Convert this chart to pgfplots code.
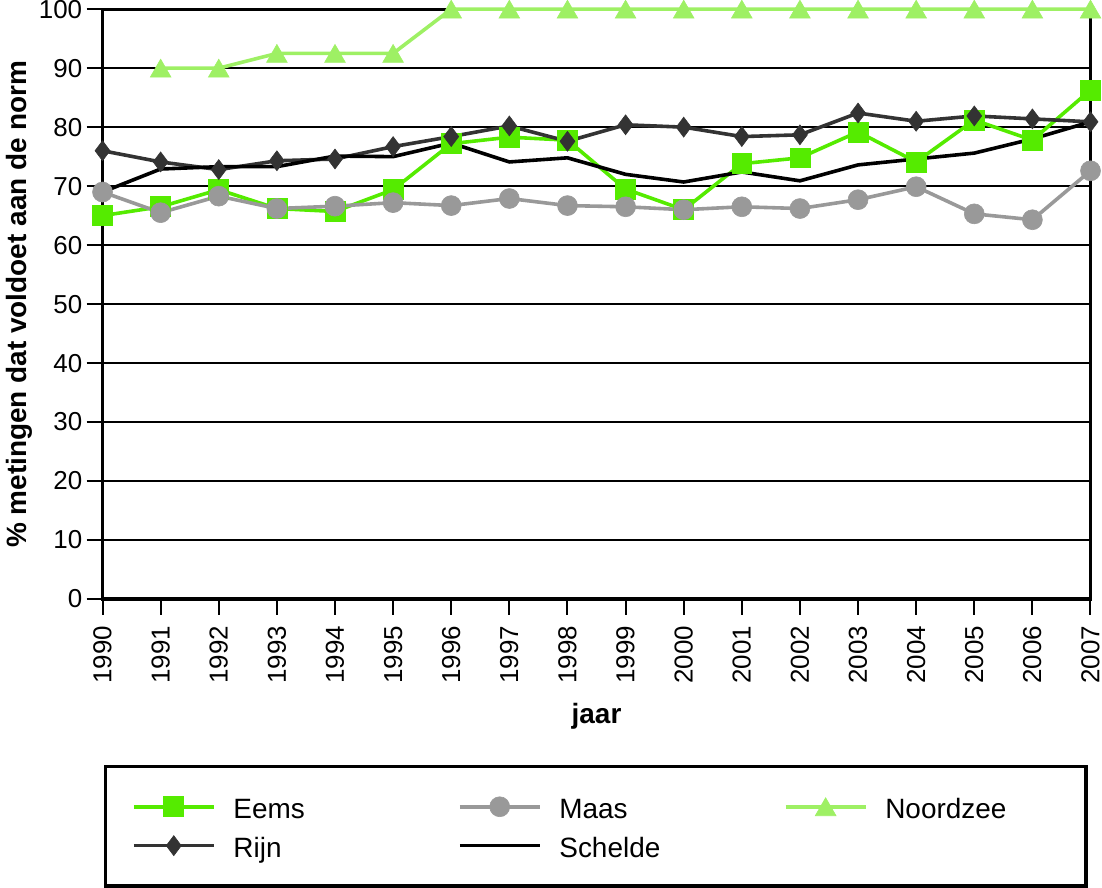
\documentclass[border=0pt]{standalone}
\usepackage{fontspec}
\setmainfont{Liberation Sans}
\usepackage{pgfplots}
\pgfplotsset{compat=1.18}
\definecolor{eems}{RGB}{85,235,0}
\definecolor{maas}{RGB}{153,153,153}
\definecolor{noord}{RGB}{158,240,100}
\definecolor{rijn}{RGB}{51,51,51}
\newcommand{\lent}[2]{\makebox[#1][l]{\rule[-6.5pt]{0pt}{19.5pt}#2}}
\begin{document}
\begin{tikzpicture}
\begin{axis}[
 scale only axis, width=495pt, height=295.5pt,
 xmin=1990, xmax=2007, ymin=0, ymax=100,
 xtick={1990,...,2007}, ytick={0,10,...,100},
 xticklabel style={rotate=90, anchor=east, font=\fontsize{13}{15}\selectfont, inner ysep=1.2pt},
 yticklabel style={font=\fontsize{13}{15}\selectfont, inner xsep=2pt, inner ysep=0pt},
 xticklabel shift=2pt,
 /pgf/number format/assume math mode=true,
 /pgf/number format/1000 sep={},
 tick align=outside, tick style={black, line width=1pt},
 major tick length=8pt,
 tick pos=left,
 ymajorgrids, grid style={black, line width=0.9pt},
 axis line style={line width=1.6pt},
 clip=false,
 xlabel={jaar}, ylabel={\% metingen dat voldoet aan de norm},
 label style={font=\bfseries\fontsize{14}{16}\selectfont},
 xlabel style={yshift=-3pt},
 ylabel style={yshift=-2.5pt},
 legend columns=3,
 legend style={at={(0.001,-0.281)}, anchor=north west, draw=black, line width=1.6pt,
   inner xsep=13.5pt, inner ysep=13pt, column sep=9pt, row sep=5pt,
   font=\fontsize{14}{16}\selectfont, nodes={inner sep=0pt}},
 legend image code/.code={\draw[mark repeat=2,mark phase=2] plot coordinates {(0pt,0pt) (20pt,0pt) (40pt,0pt)};},
]
\addplot[eems, line width=1.8pt, mark=square*, mark size=5pt, mark options={line width=0.3pt}] coordinates {
(1990,65.0)(1991,66.5)(1992,69.4)(1993,66.2)(1994,65.7)(1995,69.4)(1996,77.2)(1997,78.3)(1998,77.8)
(1999,69.5)(2000,66.0)(2001,73.8)(2002,74.8)(2003,79.2)(2004,74.1)(2005,81.2)(2006,77.8)(2007,86.3)};
\addlegendentry{\lent{103.5pt}{Eems}}
\addplot[maas, line width=1.8pt, mark=*, mark size=5pt, mark options={line width=0.3pt}] coordinates {
(1990,69.0)(1991,65.5)(1992,68.3)(1993,66.2)(1994,66.6)(1995,67.2)(1996,66.7)(1997,67.9)(1998,66.7)
(1999,66.5)(2000,66.0)(2001,66.5)(2002,66.2)(2003,67.7)(2004,69.9)(2005,65.3)(2006,64.3)(2007,72.6)};
\addlegendentry{\lent{103.5pt}{Maas}}
\addplot[noord, line width=1.8pt, mark=triangle*, mark size=6pt, mark options={yshift=-1.5pt, line width=0.3pt}] coordinates {
(1991,90)(1992,90)(1993,92.5)(1994,92.5)(1995,92.5)(1996,100)(1997,100)(1998,100)
(1999,100)(2000,100)(2001,100)(2002,100)(2003,100)(2004,100)(2005,100)(2006,100)(2007,100)};
\addlegendentry{\lent{87pt}{Noordzee}}
\addplot[rijn, line width=1.8pt, mark=diamond*, mark size=5pt, mark options={line width=0.3pt}] coordinates {
(1990,76.0)(1991,74.1)(1992,72.8)(1993,74.3)(1994,74.6)(1995,76.7)(1996,78.4)(1997,80.2)(1998,77.6)
(1999,80.4)(2000,80.0)(2001,78.4)(2002,78.7)(2003,82.4)(2004,81.0)(2005,81.9)(2006,81.4)(2007,80.9)};
\addlegendentry{\lent{103.5pt}{Rijn}}
\addplot[black, line width=1.8pt] coordinates {
(1990,69.0)(1991,72.9)(1992,73.3)(1993,73.3)(1994,75.1)(1995,75.0)(1996,77.3)(1997,74.1)(1998,74.8)
(1999,72.0)(2000,70.7)(2001,72.4)(2002,70.9)(2003,73.6)(2004,74.6)(2005,75.6)(2006,78.0)(2007,80.9)};
\addlegendentry{\lent{103.5pt}{Schelde}}
\end{axis}
\end{tikzpicture}
\end{document}
